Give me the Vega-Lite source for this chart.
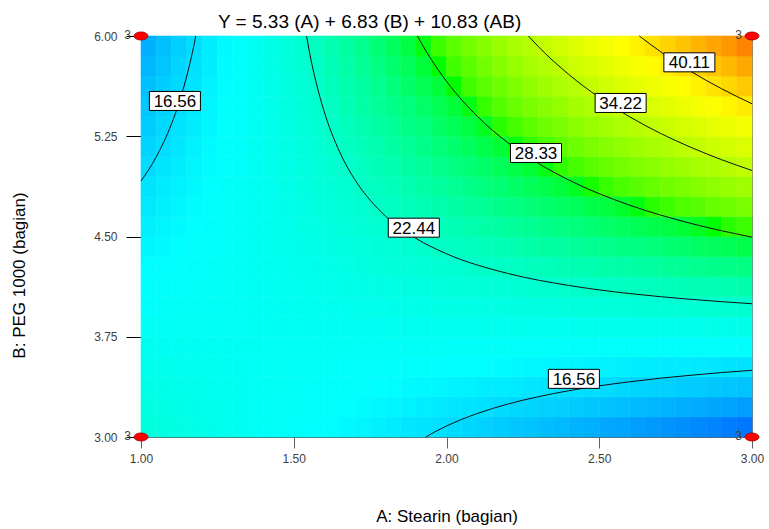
{
  "$schema": "https://vega.github.io/schema/vega-lite/v6.json",
  "width": 611,
  "height": 401,
  "autosize": {"type": "none"},
  "padding": {"left": 141, "top": 36, "right": 17, "bottom": 92},
  "background": "#ffffff",
  "config": {"view": {"stroke": "#808080", "strokeWidth": 1}, "font": "Liberation Sans"},
  "title": {"text": "Y = 5.33 (A) + 6.83 (B) + 10.83 (AB)", "fontSize": 19, "font": "Liberation Sans", "fontWeight": "normal", "color": "#000000", "anchor": "start", "frame": "group", "dx": 77, "baseline": "alphabetic", "offset": -18},
  "datasets": {
    "grid": [
{"a":1.025,"b":3.075,"y":21.4},{"a":1.025,"b":3.225,"y":21.0},{"a":1.025,"b":3.375,"y":20.6},{"a":1.025,"b":3.525,"y":20.2},{"a":1.025,"b":3.675,"y":19.9},{"a":1.025,"b":3.825,"y":19.5},{"a":1.025,"b":3.975,"y":19.1},{"a":1.025,"b":4.125,"y":18.7},{"a":1.025,"b":4.275,"y":18.4},{"a":1.025,"b":4.425,"y":18.0},{"a":1.025,"b":4.575,"y":17.6},{"a":1.025,"b":4.725,"y":17.2},{"a":1.025,"b":4.875,"y":16.9},{"a":1.025,"b":5.025,"y":16.5},{"a":1.025,"b":5.175,"y":16.1},{"a":1.025,"b":5.325,"y":15.7},{"a":1.025,"b":5.475,"y":15.4},{"a":1.025,"b":5.625,"y":15.0},{"a":1.025,"b":5.775,"y":14.6},{"a":1.025,"b":5.925,"y":14.2},
{"a":1.075,"b":3.075,"y":21.1},{"a":1.075,"b":3.225,"y":20.8},{"a":1.075,"b":3.375,"y":20.5},{"a":1.075,"b":3.525,"y":20.2},{"a":1.075,"b":3.675,"y":19.8},{"a":1.075,"b":3.825,"y":19.5},{"a":1.075,"b":3.975,"y":19.2},{"a":1.075,"b":4.125,"y":18.9},{"a":1.075,"b":4.275,"y":18.6},{"a":1.075,"b":4.425,"y":18.2},{"a":1.075,"b":4.575,"y":17.9},{"a":1.075,"b":4.725,"y":17.6},{"a":1.075,"b":4.875,"y":17.3},{"a":1.075,"b":5.025,"y":17.0},{"a":1.075,"b":5.175,"y":16.6},{"a":1.075,"b":5.325,"y":16.3},{"a":1.075,"b":5.475,"y":16.0},{"a":1.075,"b":5.625,"y":15.7},{"a":1.075,"b":5.775,"y":15.3},{"a":1.075,"b":5.925,"y":15.0},
{"a":1.125,"b":3.075,"y":20.9},{"a":1.125,"b":3.225,"y":20.6},{"a":1.125,"b":3.375,"y":20.3},{"a":1.125,"b":3.525,"y":20.1},{"a":1.125,"b":3.675,"y":19.8},{"a":1.125,"b":3.825,"y":19.5},{"a":1.125,"b":3.975,"y":19.3},{"a":1.125,"b":4.125,"y":19.0},{"a":1.125,"b":4.275,"y":18.7},{"a":1.125,"b":4.425,"y":18.5},{"a":1.125,"b":4.575,"y":18.2},{"a":1.125,"b":4.725,"y":17.9},{"a":1.125,"b":4.875,"y":17.7},{"a":1.125,"b":5.025,"y":17.4},{"a":1.125,"b":5.175,"y":17.1},{"a":1.125,"b":5.325,"y":16.9},{"a":1.125,"b":5.475,"y":16.6},{"a":1.125,"b":5.625,"y":16.3},{"a":1.125,"b":5.775,"y":16.1},{"a":1.125,"b":5.925,"y":15.8},
{"a":1.175,"b":3.075,"y":20.6},{"a":1.175,"b":3.225,"y":20.4},{"a":1.175,"b":3.375,"y":20.2},{"a":1.175,"b":3.525,"y":20.0},{"a":1.175,"b":3.675,"y":19.8},{"a":1.175,"b":3.825,"y":19.6},{"a":1.175,"b":3.975,"y":19.4},{"a":1.175,"b":4.125,"y":19.1},{"a":1.175,"b":4.275,"y":18.9},{"a":1.175,"b":4.425,"y":18.7},{"a":1.175,"b":4.575,"y":18.5},{"a":1.175,"b":4.725,"y":18.3},{"a":1.175,"b":4.875,"y":18.1},{"a":1.175,"b":5.025,"y":17.9},{"a":1.175,"b":5.175,"y":17.7},{"a":1.175,"b":5.325,"y":17.4},{"a":1.175,"b":5.475,"y":17.2},{"a":1.175,"b":5.625,"y":17.0},{"a":1.175,"b":5.775,"y":16.8},{"a":1.175,"b":5.925,"y":16.6},
{"a":1.225,"b":3.075,"y":20.4},{"a":1.225,"b":3.225,"y":20.2},{"a":1.225,"b":3.375,"y":20.1},{"a":1.225,"b":3.525,"y":19.9},{"a":1.225,"b":3.675,"y":19.7},{"a":1.225,"b":3.825,"y":19.6},{"a":1.225,"b":3.975,"y":19.4},{"a":1.225,"b":4.125,"y":19.3},{"a":1.225,"b":4.275,"y":19.1},{"a":1.225,"b":4.425,"y":19.0},{"a":1.225,"b":4.575,"y":18.8},{"a":1.225,"b":4.725,"y":18.6},{"a":1.225,"b":4.875,"y":18.5},{"a":1.225,"b":5.025,"y":18.3},{"a":1.225,"b":5.175,"y":18.2},{"a":1.225,"b":5.325,"y":18.0},{"a":1.225,"b":5.475,"y":17.9},{"a":1.225,"b":5.625,"y":17.7},{"a":1.225,"b":5.775,"y":17.5},{"a":1.225,"b":5.925,"y":17.4},
{"a":1.275,"b":3.075,"y":20.1},{"a":1.275,"b":3.225,"y":20.0},{"a":1.275,"b":3.375,"y":19.9},{"a":1.275,"b":3.525,"y":19.8},{"a":1.275,"b":3.675,"y":19.7},{"a":1.275,"b":3.825,"y":19.6},{"a":1.275,"b":3.975,"y":19.5},{"a":1.275,"b":4.125,"y":19.4},{"a":1.275,"b":4.275,"y":19.3},{"a":1.275,"b":4.425,"y":19.2},{"a":1.275,"b":4.575,"y":19.1},{"a":1.275,"b":4.725,"y":19.0},{"a":1.275,"b":4.875,"y":18.9},{"a":1.275,"b":5.025,"y":18.8},{"a":1.275,"b":5.175,"y":18.7},{"a":1.275,"b":5.325,"y":18.6},{"a":1.275,"b":5.475,"y":18.5},{"a":1.275,"b":5.625,"y":18.4},{"a":1.275,"b":5.775,"y":18.3},{"a":1.275,"b":5.925,"y":18.2},
{"a":1.325,"b":3.075,"y":19.9},{"a":1.325,"b":3.225,"y":19.8},{"a":1.325,"b":3.375,"y":19.8},{"a":1.325,"b":3.525,"y":19.7},{"a":1.325,"b":3.675,"y":19.7},{"a":1.325,"b":3.825,"y":19.6},{"a":1.325,"b":3.975,"y":19.6},{"a":1.325,"b":4.125,"y":19.5},{"a":1.325,"b":4.275,"y":19.5},{"a":1.325,"b":4.425,"y":19.4},{"a":1.325,"b":4.575,"y":19.4},{"a":1.325,"b":4.725,"y":19.3},{"a":1.325,"b":4.875,"y":19.3},{"a":1.325,"b":5.025,"y":19.2},{"a":1.325,"b":5.175,"y":19.2},{"a":1.325,"b":5.325,"y":19.1},{"a":1.325,"b":5.475,"y":19.1},{"a":1.325,"b":5.625,"y":19.0},{"a":1.325,"b":5.775,"y":19.0},{"a":1.325,"b":5.925,"y":18.9},
{"a":1.375,"b":3.075,"y":19.6},{"a":1.375,"b":3.225,"y":19.6},{"a":1.375,"b":3.375,"y":19.6},{"a":1.375,"b":3.525,"y":19.6},{"a":1.375,"b":3.675,"y":19.7},{"a":1.375,"b":3.825,"y":19.7},{"a":1.375,"b":3.975,"y":19.7},{"a":1.375,"b":4.125,"y":19.7},{"a":1.375,"b":4.275,"y":19.7},{"a":1.375,"b":4.425,"y":19.7},{"a":1.375,"b":4.575,"y":19.7},{"a":1.375,"b":4.725,"y":19.7},{"a":1.375,"b":4.875,"y":19.7},{"a":1.375,"b":5.025,"y":19.7},{"a":1.375,"b":5.175,"y":19.7},{"a":1.375,"b":5.325,"y":19.7},{"a":1.375,"b":5.475,"y":19.7},{"a":1.375,"b":5.625,"y":19.7},{"a":1.375,"b":5.775,"y":19.7},{"a":1.375,"b":5.925,"y":19.7},
{"a":1.425,"b":3.075,"y":19.4},{"a":1.425,"b":3.225,"y":19.4},{"a":1.425,"b":3.375,"y":19.5},{"a":1.425,"b":3.525,"y":19.6},{"a":1.425,"b":3.675,"y":19.6},{"a":1.425,"b":3.825,"y":19.7},{"a":1.425,"b":3.975,"y":19.7},{"a":1.425,"b":4.125,"y":19.8},{"a":1.425,"b":4.275,"y":19.9},{"a":1.425,"b":4.425,"y":19.9},{"a":1.425,"b":4.575,"y":20.0},{"a":1.425,"b":4.725,"y":20.0},{"a":1.425,"b":4.875,"y":20.1},{"a":1.425,"b":5.025,"y":20.2},{"a":1.425,"b":5.175,"y":20.2},{"a":1.425,"b":5.325,"y":20.3},{"a":1.425,"b":5.475,"y":20.3},{"a":1.425,"b":5.625,"y":20.4},{"a":1.425,"b":5.775,"y":20.5},{"a":1.425,"b":5.925,"y":20.5},
{"a":1.475,"b":3.075,"y":19.1},{"a":1.475,"b":3.225,"y":19.3},{"a":1.475,"b":3.375,"y":19.4},{"a":1.475,"b":3.525,"y":19.5},{"a":1.475,"b":3.675,"y":19.6},{"a":1.475,"b":3.825,"y":19.7},{"a":1.475,"b":3.975,"y":19.8},{"a":1.475,"b":4.125,"y":19.9},{"a":1.475,"b":4.275,"y":20.0},{"a":1.475,"b":4.425,"y":20.2},{"a":1.475,"b":4.575,"y":20.3},{"a":1.475,"b":4.725,"y":20.4},{"a":1.475,"b":4.875,"y":20.5},{"a":1.475,"b":5.025,"y":20.6},{"a":1.475,"b":5.175,"y":20.7},{"a":1.475,"b":5.325,"y":20.8},{"a":1.475,"b":5.475,"y":21.0},{"a":1.475,"b":5.625,"y":21.1},{"a":1.475,"b":5.775,"y":21.2},{"a":1.475,"b":5.925,"y":21.3},
{"a":1.525,"b":3.075,"y":18.9},{"a":1.525,"b":3.225,"y":19.1},{"a":1.525,"b":3.375,"y":19.2},{"a":1.525,"b":3.525,"y":19.4},{"a":1.525,"b":3.675,"y":19.6},{"a":1.525,"b":3.825,"y":19.7},{"a":1.525,"b":3.975,"y":19.9},{"a":1.525,"b":4.125,"y":20.1},{"a":1.525,"b":4.275,"y":20.2},{"a":1.525,"b":4.425,"y":20.4},{"a":1.525,"b":4.575,"y":20.6},{"a":1.525,"b":4.725,"y":20.7},{"a":1.525,"b":4.875,"y":20.9},{"a":1.525,"b":5.025,"y":21.1},{"a":1.525,"b":5.175,"y":21.2},{"a":1.525,"b":5.325,"y":21.4},{"a":1.525,"b":5.475,"y":21.6},{"a":1.525,"b":5.625,"y":21.7},{"a":1.525,"b":5.775,"y":21.9},{"a":1.525,"b":5.925,"y":22.1},
{"a":1.575,"b":3.075,"y":18.6},{"a":1.575,"b":3.225,"y":18.9},{"a":1.575,"b":3.375,"y":19.1},{"a":1.575,"b":3.525,"y":19.3},{"a":1.575,"b":3.675,"y":19.5},{"a":1.575,"b":3.825,"y":19.8},{"a":1.575,"b":3.975,"y":20.0},{"a":1.575,"b":4.125,"y":20.2},{"a":1.575,"b":4.275,"y":20.4},{"a":1.575,"b":4.425,"y":20.6},{"a":1.575,"b":4.575,"y":20.9},{"a":1.575,"b":4.725,"y":21.1},{"a":1.575,"b":4.875,"y":21.3},{"a":1.575,"b":5.025,"y":21.5},{"a":1.575,"b":5.175,"y":21.8},{"a":1.575,"b":5.325,"y":22.0},{"a":1.575,"b":5.475,"y":22.2},{"a":1.575,"b":5.625,"y":22.4},{"a":1.575,"b":5.775,"y":22.6},{"a":1.575,"b":5.925,"y":22.9},
{"a":1.625,"b":3.075,"y":18.4},{"a":1.625,"b":3.225,"y":18.7},{"a":1.625,"b":3.375,"y":18.9},{"a":1.625,"b":3.525,"y":19.2},{"a":1.625,"b":3.675,"y":19.5},{"a":1.625,"b":3.825,"y":19.8},{"a":1.625,"b":3.975,"y":20.1},{"a":1.625,"b":4.125,"y":20.3},{"a":1.625,"b":4.275,"y":20.6},{"a":1.625,"b":4.425,"y":20.9},{"a":1.625,"b":4.575,"y":21.2},{"a":1.625,"b":4.725,"y":21.4},{"a":1.625,"b":4.875,"y":21.7},{"a":1.625,"b":5.025,"y":22.0},{"a":1.625,"b":5.175,"y":22.3},{"a":1.625,"b":5.325,"y":22.5},{"a":1.625,"b":5.475,"y":22.8},{"a":1.625,"b":5.625,"y":23.1},{"a":1.625,"b":5.775,"y":23.4},{"a":1.625,"b":5.925,"y":23.7},
{"a":1.675,"b":3.075,"y":18.1},{"a":1.675,"b":3.225,"y":18.5},{"a":1.675,"b":3.375,"y":18.8},{"a":1.675,"b":3.525,"y":19.1},{"a":1.675,"b":3.675,"y":19.5},{"a":1.675,"b":3.825,"y":19.8},{"a":1.675,"b":3.975,"y":20.1},{"a":1.675,"b":4.125,"y":20.5},{"a":1.675,"b":4.275,"y":20.8},{"a":1.675,"b":4.425,"y":21.1},{"a":1.675,"b":4.575,"y":21.5},{"a":1.675,"b":4.725,"y":21.8},{"a":1.675,"b":4.875,"y":22.1},{"a":1.675,"b":5.025,"y":22.4},{"a":1.675,"b":5.175,"y":22.8},{"a":1.675,"b":5.325,"y":23.1},{"a":1.675,"b":5.475,"y":23.4},{"a":1.675,"b":5.625,"y":23.8},{"a":1.675,"b":5.775,"y":24.1},{"a":1.675,"b":5.925,"y":24.4},
{"a":1.725,"b":3.075,"y":17.9},{"a":1.725,"b":3.225,"y":18.3},{"a":1.725,"b":3.375,"y":18.7},{"a":1.725,"b":3.525,"y":19.1},{"a":1.725,"b":3.675,"y":19.4},{"a":1.725,"b":3.825,"y":19.8},{"a":1.725,"b":3.975,"y":20.2},{"a":1.725,"b":4.125,"y":20.6},{"a":1.725,"b":4.275,"y":21.0},{"a":1.725,"b":4.425,"y":21.4},{"a":1.725,"b":4.575,"y":21.8},{"a":1.725,"b":4.725,"y":22.1},{"a":1.725,"b":4.875,"y":22.5},{"a":1.725,"b":5.025,"y":22.9},{"a":1.725,"b":5.175,"y":23.3},{"a":1.725,"b":5.325,"y":23.7},{"a":1.725,"b":5.475,"y":24.1},{"a":1.725,"b":5.625,"y":24.4},{"a":1.725,"b":5.775,"y":24.8},{"a":1.725,"b":5.925,"y":25.2},
{"a":1.775,"b":3.075,"y":17.6},{"a":1.775,"b":3.225,"y":18.1},{"a":1.775,"b":3.375,"y":18.5},{"a":1.775,"b":3.525,"y":19.0},{"a":1.775,"b":3.675,"y":19.4},{"a":1.775,"b":3.825,"y":19.8},{"a":1.775,"b":3.975,"y":20.3},{"a":1.775,"b":4.125,"y":20.7},{"a":1.775,"b":4.275,"y":21.2},{"a":1.775,"b":4.425,"y":21.6},{"a":1.775,"b":4.575,"y":22.0},{"a":1.775,"b":4.725,"y":22.5},{"a":1.775,"b":4.875,"y":22.9},{"a":1.775,"b":5.025,"y":23.4},{"a":1.775,"b":5.175,"y":23.8},{"a":1.775,"b":5.325,"y":24.2},{"a":1.775,"b":5.475,"y":24.7},{"a":1.775,"b":5.625,"y":25.1},{"a":1.775,"b":5.775,"y":25.6},{"a":1.775,"b":5.925,"y":26.0},
{"a":1.825,"b":3.075,"y":17.4},{"a":1.825,"b":3.225,"y":17.9},{"a":1.825,"b":3.375,"y":18.4},{"a":1.825,"b":3.525,"y":18.9},{"a":1.825,"b":3.675,"y":19.4},{"a":1.825,"b":3.825,"y":19.9},{"a":1.825,"b":3.975,"y":20.4},{"a":1.825,"b":4.125,"y":20.9},{"a":1.825,"b":4.275,"y":21.4},{"a":1.825,"b":4.425,"y":21.8},{"a":1.825,"b":4.575,"y":22.3},{"a":1.825,"b":4.725,"y":22.8},{"a":1.825,"b":4.875,"y":23.3},{"a":1.825,"b":5.025,"y":23.8},{"a":1.825,"b":5.175,"y":24.3},{"a":1.825,"b":5.325,"y":24.8},{"a":1.825,"b":5.475,"y":25.3},{"a":1.825,"b":5.625,"y":25.8},{"a":1.825,"b":5.775,"y":26.3},{"a":1.825,"b":5.925,"y":26.8},
{"a":1.875,"b":3.075,"y":17.1},{"a":1.875,"b":3.225,"y":17.7},{"a":1.875,"b":3.375,"y":18.2},{"a":1.875,"b":3.525,"y":18.8},{"a":1.875,"b":3.675,"y":19.3},{"a":1.875,"b":3.825,"y":19.9},{"a":1.875,"b":3.975,"y":20.4},{"a":1.875,"b":4.125,"y":21.0},{"a":1.875,"b":4.275,"y":21.5},{"a":1.875,"b":4.425,"y":22.1},{"a":1.875,"b":4.575,"y":22.6},{"a":1.875,"b":4.725,"y":23.2},{"a":1.875,"b":4.875,"y":23.7},{"a":1.875,"b":5.025,"y":24.3},{"a":1.875,"b":5.175,"y":24.8},{"a":1.875,"b":5.325,"y":25.4},{"a":1.875,"b":5.475,"y":25.9},{"a":1.875,"b":5.625,"y":26.5},{"a":1.875,"b":5.775,"y":27.0},{"a":1.875,"b":5.925,"y":27.6},
{"a":1.925,"b":3.075,"y":16.9},{"a":1.925,"b":3.225,"y":17.5},{"a":1.925,"b":3.375,"y":18.1},{"a":1.925,"b":3.525,"y":18.7},{"a":1.925,"b":3.675,"y":19.3},{"a":1.925,"b":3.825,"y":19.9},{"a":1.925,"b":3.975,"y":20.5},{"a":1.925,"b":4.125,"y":21.1},{"a":1.925,"b":4.275,"y":21.7},{"a":1.925,"b":4.425,"y":22.3},{"a":1.925,"b":4.575,"y":22.9},{"a":1.925,"b":4.725,"y":23.5},{"a":1.925,"b":4.875,"y":24.1},{"a":1.925,"b":5.025,"y":24.7},{"a":1.925,"b":5.175,"y":25.3},{"a":1.925,"b":5.325,"y":25.9},{"a":1.925,"b":5.475,"y":26.5},{"a":1.925,"b":5.625,"y":27.2},{"a":1.925,"b":5.775,"y":27.8},{"a":1.925,"b":5.925,"y":28.4},
{"a":1.975,"b":3.075,"y":16.7},{"a":1.975,"b":3.225,"y":17.3},{"a":1.975,"b":3.375,"y":18.0},{"a":1.975,"b":3.525,"y":18.6},{"a":1.975,"b":3.675,"y":19.3},{"a":1.975,"b":3.825,"y":19.9},{"a":1.975,"b":3.975,"y":20.6},{"a":1.975,"b":4.125,"y":21.3},{"a":1.975,"b":4.275,"y":21.9},{"a":1.975,"b":4.425,"y":22.6},{"a":1.975,"b":4.575,"y":23.2},{"a":1.975,"b":4.725,"y":23.9},{"a":1.975,"b":4.875,"y":24.5},{"a":1.975,"b":5.025,"y":25.2},{"a":1.975,"b":5.175,"y":25.9},{"a":1.975,"b":5.325,"y":26.5},{"a":1.975,"b":5.475,"y":27.2},{"a":1.975,"b":5.625,"y":27.8},{"a":1.975,"b":5.775,"y":28.5},{"a":1.975,"b":5.925,"y":29.1},
{"a":2.025,"b":3.075,"y":16.4},{"a":2.025,"b":3.225,"y":17.1},{"a":2.025,"b":3.375,"y":17.8},{"a":2.025,"b":3.525,"y":18.5},{"a":2.025,"b":3.675,"y":19.2},{"a":2.025,"b":3.825,"y":20.0},{"a":2.025,"b":3.975,"y":20.7},{"a":2.025,"b":4.125,"y":21.4},{"a":2.025,"b":4.275,"y":22.1},{"a":2.025,"b":4.425,"y":22.8},{"a":2.025,"b":4.575,"y":23.5},{"a":2.025,"b":4.725,"y":24.2},{"a":2.025,"b":4.875,"y":24.9},{"a":2.025,"b":5.025,"y":25.7},{"a":2.025,"b":5.175,"y":26.4},{"a":2.025,"b":5.325,"y":27.1},{"a":2.025,"b":5.475,"y":27.8},{"a":2.025,"b":5.625,"y":28.5},{"a":2.025,"b":5.775,"y":29.2},{"a":2.025,"b":5.925,"y":29.9},
{"a":2.075,"b":3.075,"y":16.2},{"a":2.075,"b":3.225,"y":16.9},{"a":2.075,"b":3.375,"y":17.7},{"a":2.075,"b":3.525,"y":18.5},{"a":2.075,"b":3.675,"y":19.2},{"a":2.075,"b":3.825,"y":20.0},{"a":2.075,"b":3.975,"y":20.8},{"a":2.075,"b":4.125,"y":21.5},{"a":2.075,"b":4.275,"y":22.3},{"a":2.075,"b":4.425,"y":23.0},{"a":2.075,"b":4.575,"y":23.8},{"a":2.075,"b":4.725,"y":24.6},{"a":2.075,"b":4.875,"y":25.3},{"a":2.075,"b":5.025,"y":26.1},{"a":2.075,"b":5.175,"y":26.9},{"a":2.075,"b":5.325,"y":27.6},{"a":2.075,"b":5.475,"y":28.4},{"a":2.075,"b":5.625,"y":29.2},{"a":2.075,"b":5.775,"y":29.9},{"a":2.075,"b":5.925,"y":30.7},
{"a":2.125,"b":3.075,"y":15.9},{"a":2.125,"b":3.225,"y":16.7},{"a":2.125,"b":3.375,"y":17.5},{"a":2.125,"b":3.525,"y":18.4},{"a":2.125,"b":3.675,"y":19.2},{"a":2.125,"b":3.825,"y":20.0},{"a":2.125,"b":3.975,"y":20.8},{"a":2.125,"b":4.125,"y":21.6},{"a":2.125,"b":4.275,"y":22.5},{"a":2.125,"b":4.425,"y":23.3},{"a":2.125,"b":4.575,"y":24.1},{"a":2.125,"b":4.725,"y":24.9},{"a":2.125,"b":4.875,"y":25.8},{"a":2.125,"b":5.025,"y":26.6},{"a":2.125,"b":5.175,"y":27.4},{"a":2.125,"b":5.325,"y":28.2},{"a":2.125,"b":5.475,"y":29.0},{"a":2.125,"b":5.625,"y":29.9},{"a":2.125,"b":5.775,"y":30.7},{"a":2.125,"b":5.925,"y":31.5},
{"a":2.175,"b":3.075,"y":15.7},{"a":2.175,"b":3.225,"y":16.5},{"a":2.175,"b":3.375,"y":17.4},{"a":2.175,"b":3.525,"y":18.3},{"a":2.175,"b":3.675,"y":19.2},{"a":2.175,"b":3.825,"y":20.0},{"a":2.175,"b":3.975,"y":20.9},{"a":2.175,"b":4.125,"y":21.8},{"a":2.175,"b":4.275,"y":22.7},{"a":2.175,"b":4.425,"y":23.5},{"a":2.175,"b":4.575,"y":24.4},{"a":2.175,"b":4.725,"y":25.3},{"a":2.175,"b":4.875,"y":26.2},{"a":2.175,"b":5.025,"y":27.0},{"a":2.175,"b":5.175,"y":27.9},{"a":2.175,"b":5.325,"y":28.8},{"a":2.175,"b":5.475,"y":29.7},{"a":2.175,"b":5.625,"y":30.5},{"a":2.175,"b":5.775,"y":31.4},{"a":2.175,"b":5.925,"y":32.3},
{"a":2.225,"b":3.075,"y":15.4},{"a":2.225,"b":3.225,"y":16.3},{"a":2.225,"b":3.375,"y":17.3},{"a":2.225,"b":3.525,"y":18.2},{"a":2.225,"b":3.675,"y":19.1},{"a":2.225,"b":3.825,"y":20.1},{"a":2.225,"b":3.975,"y":21.0},{"a":2.225,"b":4.125,"y":21.9},{"a":2.225,"b":4.275,"y":22.8},{"a":2.225,"b":4.425,"y":23.8},{"a":2.225,"b":4.575,"y":24.7},{"a":2.225,"b":4.725,"y":25.6},{"a":2.225,"b":4.875,"y":26.6},{"a":2.225,"b":5.025,"y":27.5},{"a":2.225,"b":5.175,"y":28.4},{"a":2.225,"b":5.325,"y":29.3},{"a":2.225,"b":5.475,"y":30.3},{"a":2.225,"b":5.625,"y":31.2},{"a":2.225,"b":5.775,"y":32.1},{"a":2.225,"b":5.925,"y":33.1},
{"a":2.275,"b":3.075,"y":15.2},{"a":2.275,"b":3.225,"y":16.1},{"a":2.275,"b":3.375,"y":17.1},{"a":2.275,"b":3.525,"y":18.1},{"a":2.275,"b":3.675,"y":19.1},{"a":2.275,"b":3.825,"y":20.1},{"a":2.275,"b":3.975,"y":21.1},{"a":2.275,"b":4.125,"y":22.0},{"a":2.275,"b":4.275,"y":23.0},{"a":2.275,"b":4.425,"y":24.0},{"a":2.275,"b":4.575,"y":25.0},{"a":2.275,"b":4.725,"y":26.0},{"a":2.275,"b":4.875,"y":27.0},{"a":2.275,"b":5.025,"y":27.9},{"a":2.275,"b":5.175,"y":28.9},{"a":2.275,"b":5.325,"y":29.9},{"a":2.275,"b":5.475,"y":30.9},{"a":2.275,"b":5.625,"y":31.9},{"a":2.275,"b":5.775,"y":32.9},{"a":2.275,"b":5.925,"y":33.8},
{"a":2.325,"b":3.075,"y":14.9},{"a":2.325,"b":3.225,"y":15.9},{"a":2.325,"b":3.375,"y":17.0},{"a":2.325,"b":3.525,"y":18.0},{"a":2.325,"b":3.675,"y":19.1},{"a":2.325,"b":3.825,"y":20.1},{"a":2.325,"b":3.975,"y":21.1},{"a":2.325,"b":4.125,"y":22.2},{"a":2.325,"b":4.275,"y":23.2},{"a":2.325,"b":4.425,"y":24.3},{"a":2.325,"b":4.575,"y":25.3},{"a":2.325,"b":4.725,"y":26.3},{"a":2.325,"b":4.875,"y":27.4},{"a":2.325,"b":5.025,"y":28.4},{"a":2.325,"b":5.175,"y":29.4},{"a":2.325,"b":5.325,"y":30.5},{"a":2.325,"b":5.475,"y":31.5},{"a":2.325,"b":5.625,"y":32.6},{"a":2.325,"b":5.775,"y":33.6},{"a":2.325,"b":5.925,"y":34.6},
{"a":2.375,"b":3.075,"y":14.7},{"a":2.375,"b":3.225,"y":15.8},{"a":2.375,"b":3.375,"y":16.8},{"a":2.375,"b":3.525,"y":17.9},{"a":2.375,"b":3.675,"y":19.0},{"a":2.375,"b":3.825,"y":20.1},{"a":2.375,"b":3.975,"y":21.2},{"a":2.375,"b":4.125,"y":22.3},{"a":2.375,"b":4.275,"y":23.4},{"a":2.375,"b":4.425,"y":24.5},{"a":2.375,"b":4.575,"y":25.6},{"a":2.375,"b":4.725,"y":26.7},{"a":2.375,"b":4.875,"y":27.8},{"a":2.375,"b":5.025,"y":28.9},{"a":2.375,"b":5.175,"y":30.0},{"a":2.375,"b":5.325,"y":31.0},{"a":2.375,"b":5.475,"y":32.1},{"a":2.375,"b":5.625,"y":33.2},{"a":2.375,"b":5.775,"y":34.3},{"a":2.375,"b":5.925,"y":35.4},
{"a":2.425,"b":3.075,"y":14.4},{"a":2.425,"b":3.225,"y":15.6},{"a":2.425,"b":3.375,"y":16.7},{"a":2.425,"b":3.525,"y":17.9},{"a":2.425,"b":3.675,"y":19.0},{"a":2.425,"b":3.825,"y":20.1},{"a":2.425,"b":3.975,"y":21.3},{"a":2.425,"b":4.125,"y":22.4},{"a":2.425,"b":4.275,"y":23.6},{"a":2.425,"b":4.425,"y":24.7},{"a":2.425,"b":4.575,"y":25.9},{"a":2.425,"b":4.725,"y":27.0},{"a":2.425,"b":4.875,"y":28.2},{"a":2.425,"b":5.025,"y":29.3},{"a":2.425,"b":5.175,"y":30.5},{"a":2.425,"b":5.325,"y":31.6},{"a":2.425,"b":5.475,"y":32.8},{"a":2.425,"b":5.625,"y":33.9},{"a":2.425,"b":5.775,"y":35.1},{"a":2.425,"b":5.925,"y":36.2},
{"a":2.475,"b":3.075,"y":14.2},{"a":2.475,"b":3.225,"y":15.4},{"a":2.475,"b":3.375,"y":16.6},{"a":2.475,"b":3.525,"y":17.8},{"a":2.475,"b":3.675,"y":19.0},{"a":2.475,"b":3.825,"y":20.2},{"a":2.475,"b":3.975,"y":21.4},{"a":2.475,"b":4.125,"y":22.6},{"a":2.475,"b":4.275,"y":23.8},{"a":2.475,"b":4.425,"y":25.0},{"a":2.475,"b":4.575,"y":26.2},{"a":2.475,"b":4.725,"y":27.4},{"a":2.475,"b":4.875,"y":28.6},{"a":2.475,"b":5.025,"y":29.8},{"a":2.475,"b":5.175,"y":31.0},{"a":2.475,"b":5.325,"y":32.2},{"a":2.475,"b":5.475,"y":33.4},{"a":2.475,"b":5.625,"y":34.6},{"a":2.475,"b":5.775,"y":35.8},{"a":2.475,"b":5.925,"y":37.0},
{"a":2.525,"b":3.075,"y":13.9},{"a":2.525,"b":3.225,"y":15.2},{"a":2.525,"b":3.375,"y":16.4},{"a":2.525,"b":3.525,"y":17.7},{"a":2.525,"b":3.675,"y":18.9},{"a":2.525,"b":3.825,"y":20.2},{"a":2.525,"b":3.975,"y":21.4},{"a":2.525,"b":4.125,"y":22.7},{"a":2.525,"b":4.275,"y":24.0},{"a":2.525,"b":4.425,"y":25.2},{"a":2.525,"b":4.575,"y":26.5},{"a":2.525,"b":4.725,"y":27.7},{"a":2.525,"b":4.875,"y":29.0},{"a":2.525,"b":5.025,"y":30.2},{"a":2.525,"b":5.175,"y":31.5},{"a":2.525,"b":5.325,"y":32.7},{"a":2.525,"b":5.475,"y":34.0},{"a":2.525,"b":5.625,"y":35.3},{"a":2.525,"b":5.775,"y":36.5},{"a":2.525,"b":5.925,"y":37.8},
{"a":2.575,"b":3.075,"y":13.7},{"a":2.575,"b":3.225,"y":15.0},{"a":2.575,"b":3.375,"y":16.3},{"a":2.575,"b":3.525,"y":17.6},{"a":2.575,"b":3.675,"y":18.9},{"a":2.575,"b":3.825,"y":20.2},{"a":2.575,"b":3.975,"y":21.5},{"a":2.575,"b":4.125,"y":22.8},{"a":2.575,"b":4.275,"y":24.1},{"a":2.575,"b":4.425,"y":25.5},{"a":2.575,"b":4.575,"y":26.8},{"a":2.575,"b":4.725,"y":28.1},{"a":2.575,"b":4.875,"y":29.4},{"a":2.575,"b":5.025,"y":30.7},{"a":2.575,"b":5.175,"y":32.0},{"a":2.575,"b":5.325,"y":33.3},{"a":2.575,"b":5.475,"y":34.6},{"a":2.575,"b":5.625,"y":35.9},{"a":2.575,"b":5.775,"y":37.2},{"a":2.575,"b":5.925,"y":38.5},
{"a":2.625,"b":3.075,"y":13.4},{"a":2.625,"b":3.225,"y":14.8},{"a":2.625,"b":3.375,"y":16.1},{"a":2.625,"b":3.525,"y":17.5},{"a":2.625,"b":3.675,"y":18.9},{"a":2.625,"b":3.825,"y":20.2},{"a":2.625,"b":3.975,"y":21.6},{"a":2.625,"b":4.125,"y":23.0},{"a":2.625,"b":4.275,"y":24.3},{"a":2.625,"b":4.425,"y":25.7},{"a":2.625,"b":4.575,"y":27.1},{"a":2.625,"b":4.725,"y":28.4},{"a":2.625,"b":4.875,"y":29.8},{"a":2.625,"b":5.025,"y":31.2},{"a":2.625,"b":5.175,"y":32.5},{"a":2.625,"b":5.325,"y":33.9},{"a":2.625,"b":5.475,"y":35.2},{"a":2.625,"b":5.625,"y":36.6},{"a":2.625,"b":5.775,"y":38.0},{"a":2.625,"b":5.925,"y":39.3},
{"a":2.675,"b":3.075,"y":13.2},{"a":2.675,"b":3.225,"y":14.6},{"a":2.675,"b":3.375,"y":16.0},{"a":2.675,"b":3.525,"y":17.4},{"a":2.675,"b":3.675,"y":18.8},{"a":2.675,"b":3.825,"y":20.3},{"a":2.675,"b":3.975,"y":21.7},{"a":2.675,"b":4.125,"y":23.1},{"a":2.675,"b":4.275,"y":24.5},{"a":2.675,"b":4.425,"y":25.9},{"a":2.675,"b":4.575,"y":27.4},{"a":2.675,"b":4.725,"y":28.8},{"a":2.675,"b":4.875,"y":30.2},{"a":2.675,"b":5.025,"y":31.6},{"a":2.675,"b":5.175,"y":33.0},{"a":2.675,"b":5.325,"y":34.4},{"a":2.675,"b":5.475,"y":35.9},{"a":2.675,"b":5.625,"y":37.3},{"a":2.675,"b":5.775,"y":38.7},{"a":2.675,"b":5.925,"y":40.1},
{"a":2.725,"b":3.075,"y":12.9},{"a":2.725,"b":3.225,"y":14.4},{"a":2.725,"b":3.375,"y":15.9},{"a":2.725,"b":3.525,"y":17.3},{"a":2.725,"b":3.675,"y":18.8},{"a":2.725,"b":3.825,"y":20.3},{"a":2.725,"b":3.975,"y":21.8},{"a":2.725,"b":4.125,"y":23.2},{"a":2.725,"b":4.275,"y":24.7},{"a":2.725,"b":4.425,"y":26.2},{"a":2.725,"b":4.575,"y":27.6},{"a":2.725,"b":4.725,"y":29.1},{"a":2.725,"b":4.875,"y":30.6},{"a":2.725,"b":5.025,"y":32.1},{"a":2.725,"b":5.175,"y":33.5},{"a":2.725,"b":5.325,"y":35.0},{"a":2.725,"b":5.475,"y":36.5},{"a":2.725,"b":5.625,"y":38.0},{"a":2.725,"b":5.775,"y":39.4},{"a":2.725,"b":5.925,"y":40.9},
{"a":2.775,"b":3.075,"y":12.7},{"a":2.775,"b":3.225,"y":14.2},{"a":2.775,"b":3.375,"y":15.7},{"a":2.775,"b":3.525,"y":17.3},{"a":2.775,"b":3.675,"y":18.8},{"a":2.775,"b":3.825,"y":20.3},{"a":2.775,"b":3.975,"y":21.8},{"a":2.775,"b":4.125,"y":23.4},{"a":2.775,"b":4.275,"y":24.9},{"a":2.775,"b":4.425,"y":26.4},{"a":2.775,"b":4.575,"y":27.9},{"a":2.775,"b":4.725,"y":29.5},{"a":2.775,"b":4.875,"y":31.0},{"a":2.775,"b":5.025,"y":32.5},{"a":2.775,"b":5.175,"y":34.1},{"a":2.775,"b":5.325,"y":35.6},{"a":2.775,"b":5.475,"y":37.1},{"a":2.775,"b":5.625,"y":38.6},{"a":2.775,"b":5.775,"y":40.2},{"a":2.775,"b":5.925,"y":41.7},
{"a":2.825,"b":3.075,"y":12.4},{"a":2.825,"b":3.225,"y":14.0},{"a":2.825,"b":3.375,"y":15.6},{"a":2.825,"b":3.525,"y":17.2},{"a":2.825,"b":3.675,"y":18.8},{"a":2.825,"b":3.825,"y":20.3},{"a":2.825,"b":3.975,"y":21.9},{"a":2.825,"b":4.125,"y":23.5},{"a":2.825,"b":4.275,"y":25.1},{"a":2.825,"b":4.425,"y":26.7},{"a":2.825,"b":4.575,"y":28.2},{"a":2.825,"b":4.725,"y":29.8},{"a":2.825,"b":4.875,"y":31.4},{"a":2.825,"b":5.025,"y":33.0},{"a":2.825,"b":5.175,"y":34.6},{"a":2.825,"b":5.325,"y":36.1},{"a":2.825,"b":5.475,"y":37.7},{"a":2.825,"b":5.625,"y":39.3},{"a":2.825,"b":5.775,"y":40.9},{"a":2.825,"b":5.925,"y":42.5},
{"a":2.875,"b":3.075,"y":12.2},{"a":2.875,"b":3.225,"y":13.8},{"a":2.875,"b":3.375,"y":15.4},{"a":2.875,"b":3.525,"y":17.1},{"a":2.875,"b":3.675,"y":18.7},{"a":2.875,"b":3.825,"y":20.4},{"a":2.875,"b":3.975,"y":22.0},{"a":2.875,"b":4.125,"y":23.6},{"a":2.875,"b":4.275,"y":25.3},{"a":2.875,"b":4.425,"y":26.9},{"a":2.875,"b":4.575,"y":28.5},{"a":2.875,"b":4.725,"y":30.2},{"a":2.875,"b":4.875,"y":31.8},{"a":2.875,"b":5.025,"y":33.4},{"a":2.875,"b":5.175,"y":35.1},{"a":2.875,"b":5.325,"y":36.7},{"a":2.875,"b":5.475,"y":38.3},{"a":2.875,"b":5.625,"y":40.0},{"a":2.875,"b":5.775,"y":41.6},{"a":2.875,"b":5.925,"y":43.3},
{"a":2.925,"b":3.075,"y":11.9},{"a":2.925,"b":3.225,"y":13.6},{"a":2.925,"b":3.375,"y":15.3},{"a":2.925,"b":3.525,"y":17.0},{"a":2.925,"b":3.675,"y":18.7},{"a":2.925,"b":3.825,"y":20.4},{"a":2.925,"b":3.975,"y":22.1},{"a":2.925,"b":4.125,"y":23.8},{"a":2.925,"b":4.275,"y":25.4},{"a":2.925,"b":4.425,"y":27.1},{"a":2.925,"b":4.575,"y":28.8},{"a":2.925,"b":4.725,"y":30.5},{"a":2.925,"b":4.875,"y":32.2},{"a":2.925,"b":5.025,"y":33.9},{"a":2.925,"b":5.175,"y":35.6},{"a":2.925,"b":5.325,"y":37.3},{"a":2.925,"b":5.475,"y":39.0},{"a":2.925,"b":5.625,"y":40.7},{"a":2.925,"b":5.775,"y":42.3},{"a":2.925,"b":5.925,"y":44.0},
{"a":2.975,"b":3.075,"y":11.7},{"a":2.975,"b":3.225,"y":13.4},{"a":2.975,"b":3.375,"y":15.2},{"a":2.975,"b":3.525,"y":16.9},{"a":2.975,"b":3.675,"y":18.7},{"a":2.975,"b":3.825,"y":20.4},{"a":2.975,"b":3.975,"y":22.1},{"a":2.975,"b":4.125,"y":23.9},{"a":2.975,"b":4.275,"y":25.6},{"a":2.975,"b":4.425,"y":27.4},{"a":2.975,"b":4.575,"y":29.1},{"a":2.975,"b":4.725,"y":30.9},{"a":2.975,"b":4.875,"y":32.6},{"a":2.975,"b":5.025,"y":34.4},{"a":2.975,"b":5.175,"y":36.1},{"a":2.975,"b":5.325,"y":37.8},{"a":2.975,"b":5.475,"y":39.6},{"a":2.975,"b":5.625,"y":41.3},{"a":2.975,"b":5.775,"y":43.1},{"a":2.975,"b":5.925,"y":44.8}
    ],
    "contours": [
      {"seg":"c1","i":0,"a":1.0,"b":4.916},{"seg":"c1","i":1,"a":1.025,"b":4.999},{"seg":"c1","i":2,"a":1.05,"b":5.096},{"seg":"c1","i":3,"a":1.075,"b":5.209},{"seg":"c1","i":4,"a":1.1,"b":5.343},{"seg":"c1","i":5,"a":1.125,"b":5.504},{"seg":"c1","i":6,"a":1.15,"b":5.702},{"seg":"c1","i":7,"a":1.165,"b":5.844},{"seg":"c1","i":8,"a":1.175,"b":5.95},{"seg":"c1","i":9,"a":1.179,"b":6.0},
      {"seg":"c2","i":0,"a":1.932,"b":3.0},{"seg":"c2","i":1,"a":1.96,"b":3.036},{"seg":"c2","i":2,"a":2.0,"b":3.082},{"seg":"c2","i":3,"a":2.1,"b":3.175},{"seg":"c2","i":4,"a":2.2,"b":3.246},{"seg":"c2","i":5,"a":2.3,"b":3.301},{"seg":"c2","i":6,"a":2.4,"b":3.346},{"seg":"c2","i":7,"a":2.5,"b":3.383},{"seg":"c2","i":8,"a":2.6,"b":3.413},{"seg":"c2","i":9,"a":2.7,"b":3.44},{"seg":"c2","i":10,"a":2.8,"b":3.462},{"seg":"c2","i":11,"a":2.9,"b":3.482},{"seg":"c2","i":12,"a":3.0,"b":3.499},
      {"seg":"c3","i":0,"a":1.542,"b":6.0},{"seg":"c3","i":1,"a":1.55,"b":5.897},{"seg":"c3","i":2,"a":1.575,"b":5.636},{"seg":"c3","i":3,"a":1.6,"b":5.432},{"seg":"c3","i":4,"a":1.65,"b":5.134},{"seg":"c3","i":5,"a":1.7,"b":4.925},{"seg":"c3","i":6,"a":1.75,"b":4.772},{"seg":"c3","i":7,"a":1.8,"b":4.654},{"seg":"c3","i":8,"a":1.9,"b":4.486},{"seg":"c3","i":9,"a":2.0,"b":4.371},{"seg":"c3","i":10,"a":2.2,"b":4.224},{"seg":"c3","i":11,"a":2.4,"b":4.134},{"seg":"c3","i":12,"a":2.6,"b":4.073},{"seg":"c3","i":13,"a":2.8,"b":4.03},{"seg":"c3","i":14,"a":3.0,"b":3.997},
      {"seg":"c4","i":0,"a":1.905,"b":6.0},{"seg":"c4","i":1,"a":1.925,"b":5.918},{"seg":"c4","i":2,"a":1.95,"b":5.825},{"seg":"c4","i":3,"a":2.0,"b":5.661},{"seg":"c4","i":4,"a":2.1,"b":5.401},{"seg":"c4","i":5,"a":2.2,"b":5.203},{"seg":"c4","i":6,"a":2.3,"b":5.048},{"seg":"c4","i":7,"a":2.4,"b":4.923},{"seg":"c4","i":8,"a":2.6,"b":4.734},{"seg":"c4","i":9,"a":2.8,"b":4.598},{"seg":"c4","i":10,"a":3.0,"b":4.495},
      {"seg":"c5","i":0,"a":2.268,"b":6.0},{"seg":"c5","i":1,"a":2.3,"b":5.922},{"seg":"c5","i":2,"a":2.4,"b":5.713},{"seg":"c5","i":3,"a":2.5,"b":5.54},{"seg":"c5","i":4,"a":2.6,"b":5.395},{"seg":"c5","i":5,"a":2.7,"b":5.272},{"seg":"c5","i":6,"a":2.8,"b":5.167},{"seg":"c5","i":7,"a":2.9,"b":5.075},{"seg":"c5","i":8,"a":3.0,"b":4.994},
      {"seg":"c6","i":0,"a":2.631,"b":6.0},{"seg":"c6","i":1,"a":2.7,"b":5.884},{"seg":"c6","i":2,"a":2.75,"b":5.807},{"seg":"c6","i":3,"a":2.8,"b":5.735},{"seg":"c6","i":4,"a":2.9,"b":5.606},{"seg":"c6","i":5,"a":3.0,"b":5.493}
    ],
    "labels": [
      {"a":1.111,"b":5.514,"t":"16.56"},{"a":1.893,"b":4.566,"t":"22.44"},{"a":2.293,"b":5.125,"t":"28.33"},{"a":2.57,"b":5.499,"t":"34.22"},{"a":2.795,"b":5.803,"t":"40.11"},{"a":2.417,"b":3.435,"t":"16.56"}
    ],
    "points": [
      {"a":1,"b":3,"n":"3"},{"a":3,"b":3,"n":"3"},{"a":1,"b":6,"n":"3"},{"a":3,"b":6,"n":"3"}
    ]
  },
  "encoding": {
    "x": {"field": "a", "type": "quantitative", "scale": {"domain": [1, 3], "nice": false, "zero": false},
      "axis": {"title": "A: Stearin (bagian)", "values": [1, 1.5, 2, 2.5, 3], "format": ".2f", "grid": false, "tickSize": 11, "tickColor": "#606060", "domainColor": "#606060", "labelFont": "Liberation Sans", "labelFontSize": 12, "labelColor": "#404040", "labelPadding": 5, "labelFlush": false, "titleFont": "Liberation Sans", "titleFontSize": 17, "titleFontWeight": "normal", "titleColor": "#000000", "titleBaseline": "alphabetic", "titleY": 84}},
    "y": {"field": "b", "type": "quantitative", "scale": {"domain": [3, 6], "nice": false, "zero": false},
      "axis": {"title": "B: PEG 1000 (bagian)", "values": [3, 3.75, 4.5, 5.25, 6], "format": ".2f", "grid": false, "tickSize": 15, "tickColor": "#000000", "domainColor": "#000000", "labelFont": "Liberation Sans", "labelFontSize": 12, "labelColor": "#404040", "labelPadding": 9, "labelFlush": false, "titleFont": "Liberation Sans", "titleFontSize": 17, "titleFontWeight": "normal", "titleColor": "#000000", "titleAngle": -90, "titleBaseline": "alphabetic", "titleAlign": "center", "titleX": -117, "titleY": 239}}
  },
  "layer": [
    {
      "data": {"name": "grid"},
      "transform": [
        {"bin": {"extent": [1, 3], "step": 0.05, "nice": false}, "field": "a", "as": ["a", "a2"]},
        {"bin": {"extent": [3, 6], "step": 0.15, "nice": false}, "field": "b", "as": ["b", "b2"]}
      ],
      "mark": {"type": "rect", "strokeWidth": 0.6},
      "encoding": {
        "x2": {"field": "a2"},
        "y2": {"field": "b2"},
        "fill": {"field": "y", "type": "quantitative", "scale": {"domain": [9, 18.5, 28.5, 38.5, 48.5], "range": ["#0000ff", "#00ffff", "#00ff00", "#ffff00", "#ff0000"]}, "legend": null},
        "stroke": {"field": "y", "type": "quantitative", "scale": {"domain": [9, 18.5, 28.5, 38.5, 48.5], "range": ["#0000ff", "#00ffff", "#00ff00", "#ffff00", "#ff0000"]}, "legend": null}
      }
    },
    {
      "data": {"name": "contours"},
      "mark": {"type": "line", "color": "#101010", "strokeWidth": 1, "interpolate": "monotone"},
      "encoding": {"detail": {"field": "seg"}, "order": {"field": "i", "type": "quantitative"}}
    },
    {
      "data": {"name": "labels"},
      "mark": {"type": "point", "shape": "M-1,-0.3725H1V0.3725H-1Z", "size": 2601, "filled": true, "fill": "#ffffff", "stroke": "#000000", "strokeWidth": 1, "opacity": 1},
      "encoding": {}
    },
    {
      "data": {"name": "labels"},
      "mark": {"type": "text", "font": "Liberation Sans", "fontSize": 17, "align": "center", "baseline": "middle", "color": "#000000", "dy": 1},
      "encoding": {"text": {"field": "t"}}
    },
    {
      "data": {"name": "points"},
      "mark": {"type": "point", "shape": "M-1,0A1,0.57,0,1,0,1,0A1,0.57,0,1,0,-1,0Z", "size": 196, "filled": true, "fill": "#ff0000", "stroke": "#a00000", "strokeWidth": 0.8, "opacity": 1},
      "encoding": {}
    },
    {
      "data": {"name": "points"},
      "mark": {"type": "text", "font": "Liberation Sans", "fontSize": 12, "align": "right", "baseline": "middle", "dx": -10, "dy": -1, "color": "#404040"},
      "encoding": {"text": {"field": "n"}}
    }
  ]
}
